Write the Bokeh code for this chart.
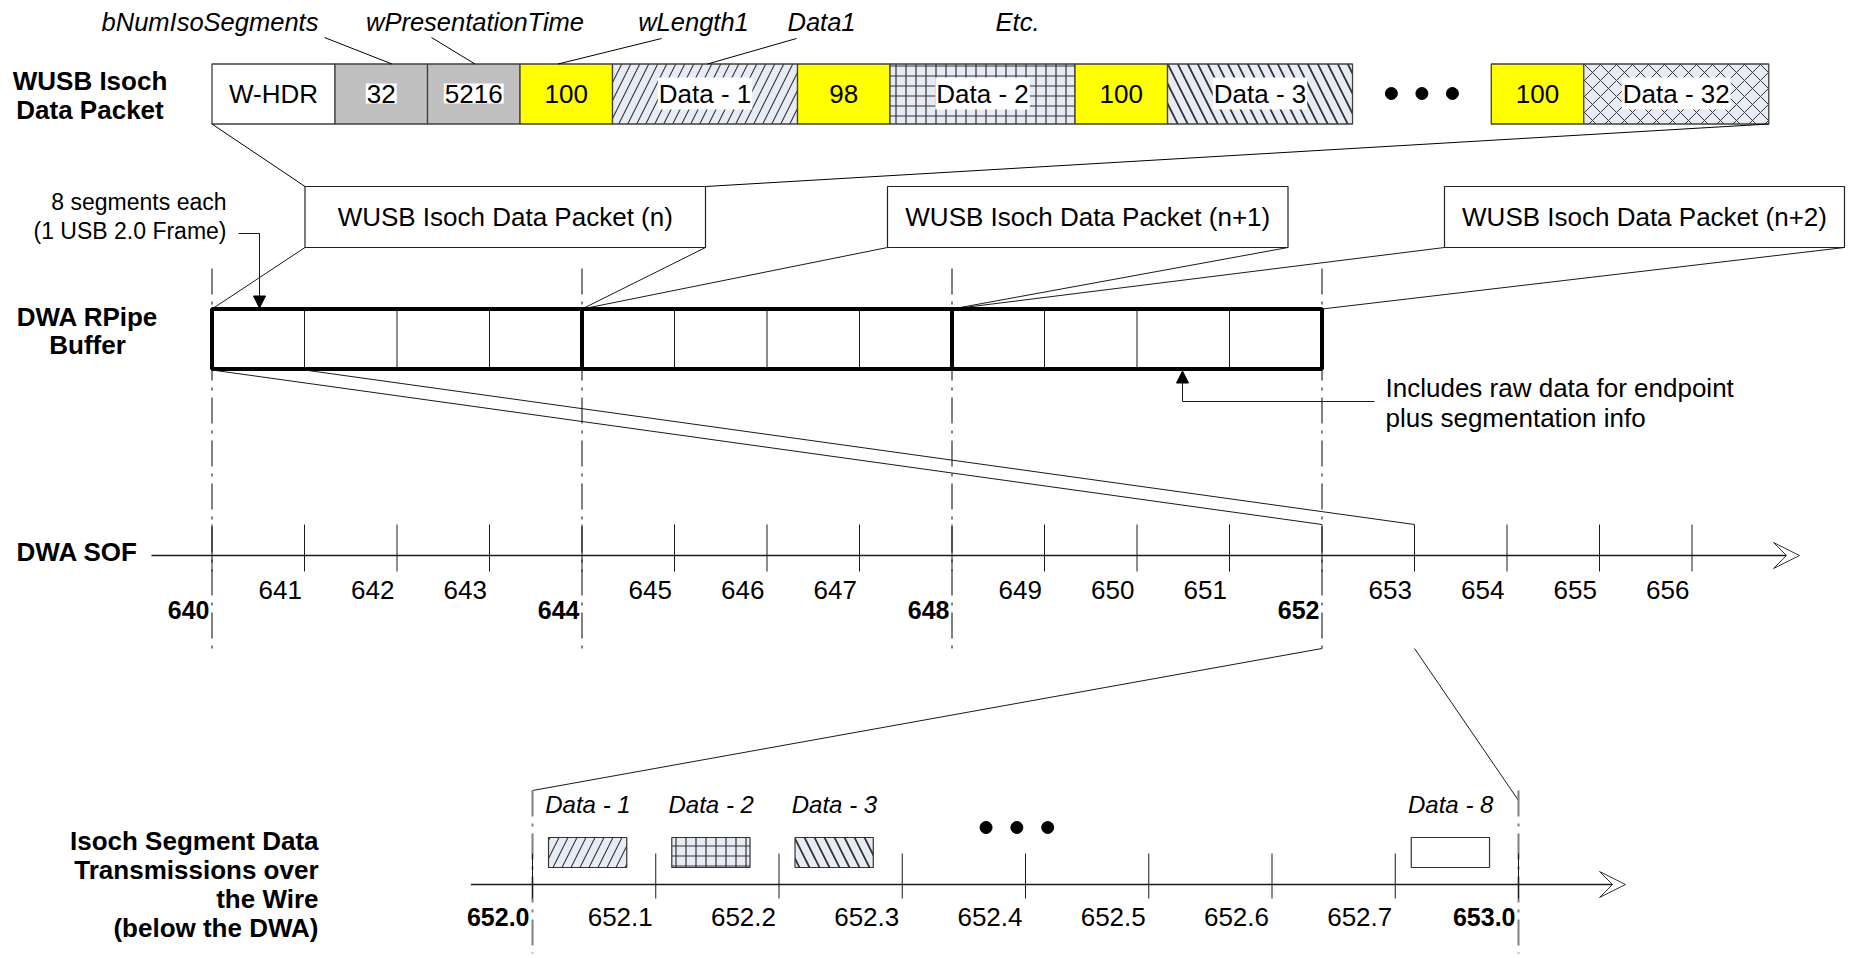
from bokeh.plotting import figure
from bokeh.models import Range1d, Arrow, VeeHead, NormalHead
from bokeh.core.properties import value
from bokeh.embed import file_html
from bokeh.resources import INLINE

# ------------------------------------------------------------------ data
packet_fields = ["W-HDR", "32", "5216", "100", "Data - 1", "98", "Data - 2", "100", "Data - 3", "100", "Data - 32"]
field_kinds = ["hdr", "meta", "meta", "len", "data", "len", "data", "len", "data", "len", "data"]
field_spans = [1.33, 1, 1, 1, 2, 1, 2, 1, 2, 1, 2]          # width in frame units
field_hatch = ["", "", "", "", "/", "", "+", "", "\\", "", "x"]
gap_after = 8                                               # ellipsis gap after this field
gap_span = 1.5
field_notes = ["bNumIsoSegments", "wPresentationTime", "wLength1", "Data1", "Etc."]

sof_frames = list(range(640, 657))
major_frames = [640, 644, 648, 652]
buffer_start, buffer_end = 640, 652
packet_names = ["WUSB Isoch Data Packet (n)", "WUSB Isoch Data Packet (n+1)", "WUSB Isoch Data Packet (n+2)"]

micro_labels = ["652.0", "652.1", "652.2", "652.3", "652.4", "652.5", "652.6", "652.7", "653.0"]
micro_major = ["652.0", "653.0"]
seg_labels = ["Data - 1", "Data - 2", "Data - 3", "Data - 8"]
seg_slots = [0, 1, 2, 7]
seg_hatch = ["/", "+", "\\", ""]

# ------------------------------------------------------------------ layout helpers
W, H = 1853, 958
XU = 92.5                       # px per SOF frame
X0 = 640 - 211.5 / XU           # frame value at the left canvas edge
MU = 123.25                     # px per micro slot
M0 = -532 / MU                  # slot value at the left canvas edge


def fx(px):
    return X0 + px / XU


def m2f(slot):
    return fx((slot - M0) * MU)


FONT = value("Liberation Sans")
INK = "#1a1a1a"

p = figure(width=W, height=H, output_backend="svg", toolbar_location=None,
           x_axis_location=None, y_axis_location=None, min_border=0,
           x_range=Range1d(X0, X0 + W / XU), y_range=Range1d(H, 0))
p.extra_x_ranges = {"micro": Range1d(M0, M0 + W / MU)}
p.grid.visible = False
p.outline_line_color = None
p.background_fill_color = "white"


def txt(xs, ys, texts, size="26px", align="center", style="normal", bg=None, x_range_name="default"):
    kw = {}
    if bg is not None:
        kw = dict(background_fill_color=bg, padding=1)
    p.text(x=xs, y=ys, text=texts, text_font=FONT, text_font_size=size, text_align=align,
           text_baseline="middle", text_font_style=style, text_color="black",
           x_range_name=x_range_name, **kw)


def seg(x0, y0, x1, y1, color="black", width=1.0, dash="solid"):
    p.segment(x0=x0, y0=y0, x1=x1, y1=y1, line_color=color, line_width=width, line_dash=dash)


def hatch_kw(hp):
    if not hp:
        return {}
    scale = {"/": 18, "\\": 20, "+": 10, "x": 16}[hp]
    weight = {"/": 1.1, "\\": 1.8, "+": 1.2, "x": 1.0}[hp]
    return dict(hatch_pattern=hp, hatch_color="#333333", hatch_scale=scale, hatch_weight=weight)


# ------------------------------------------------------------------ top packet row
fill_for = {"hdr": "white", "meta": "#c0c0c0", "len": "#ffff00", "data": "#e6ebf4"}
lefts, rights = [], []
x = float(buffer_start)
for i, span in enumerate(field_spans):
    lefts.append(x)
    rights.append(x + span)
    x += span
    if i == gap_after:
        gap_left = x
        x += gap_span
TOP_Y0, TOP_Y1 = 63.5, 123.5
for i, lab in enumerate(packet_fields):
    p.quad(left=[lefts[i]], right=[rights[i]], top=[TOP_Y0], bottom=[TOP_Y1],
           fill_color=fill_for[field_kinds[i]], line_color="#404040", line_width=1.3,
           **hatch_kw(field_hatch[i]))
cx = [(a + b) / 2 for a, b in zip(lefts, rights)]
plain = [i for i, k in enumerate(field_kinds) if k in ("hdr", "len")]
boxed = [i for i, k in enumerate(field_kinds) if k in ("meta", "data")]
txt([cx[i] for i in plain], [93] * len(plain), [packet_fields[i] for i in plain])
txt([cx[i] for i in boxed], [93] * len(boxed), [packet_fields[i] for i in boxed], bg="white")
p.scatter(x=[gap_left + gap_span * f for f in (0.28, 0.5, 0.72)], y=[93] * 3,
          size=12, marker="circle", color="black")

# field annotations (italic) and leader lines
note_x = [fx(209.5), fx(474.5), fx(693), fx(821), fx(1017)]
txt(note_x, [21] * 5, field_notes, size="25.5px", style="italic")
seg([fx(324), fx(431), fx(661), fx(796)], [37, 37, 38, 38],
    [fx(391.5), fx(474.5), fx(557.5), fx(707)], [TOP_Y0] * 4)

# left row labels
txt([fx(89.5)] * 2, [80, 109], ["WUSB Isoch", "Data Packet"], style="bold")
txt([fx(87)] * 2, [316, 344], ["DWA RPipe", "Buffer"], style="bold")
txt([fx(16)], [551], ["DWA SOF"], style="bold", align="left")
txt([fx(318)] * 4, [840, 869, 898, 927],
    ["Isoch Segment Data", "Transmissions over", "the Wire", "(below the DWA)"],
    style="bold", align="right")

# ------------------------------------------------------------------ packet boxes
pk_left = [fx(304.5), fx(887), fx(1444)]
pk_right = [fx(705), fx(1287.5), fx(1844)]
PK_Y0, PK_Y1 = 186, 247
p.quad(left=pk_left, right=pk_right, top=[PK_Y0] * 3, bottom=[PK_Y1] * 3,
       fill_color="white", line_color="#222222", line_width=1.2)
txt([(a + b) / 2 for a, b in zip(pk_left, pk_right)], [216] * 3, packet_names)

# expansion lines top row -> packet (n)
seg([lefts[0], rights[-1]], [TOP_Y1, TOP_Y1], [pk_left[0], pk_right[0]], [PK_Y0, PK_Y0])

# ------------------------------------------------------------------ dash-dot frame markers
DD = "26 7 3 7"
seg(major_frames, [268] * 4, major_frames, [648] * 4, color="#808080", width=2, dash=DD)

# ------------------------------------------------------------------ RPipe buffer
BUF_Y0, BUF_Y1 = 308.5, 368.5
cells = [f for f in range(buffer_start + 1, buffer_end) if f not in major_frames]
seg(cells, [BUF_Y0] * len(cells), cells, [BUF_Y1] * len(cells), color=INK, width=1)
bounds = major_frames
seg([pk_left[0], pk_right[0], pk_left[1], pk_right[1], pk_left[2], pk_right[2]], [PK_Y1] * 6,
    [bounds[0], bounds[1], bounds[1], bounds[2], bounds[2], bounds[3]], [BUF_Y0] * 6, color=INK)
mids = [f for f in major_frames if buffer_start < f < buffer_end]
seg(mids, [BUF_Y0 - 2] * len(mids), mids, [BUF_Y1 + 2] * len(mids), color="black", width=4)
p.quad(left=[buffer_start], right=[buffer_end], top=[BUF_Y0], bottom=[BUF_Y1],
       fill_color=None, line_color="black", line_width=4)

# 8 segments note
txt([fx(226)] * 2, [201, 230], ["8 segments each", "(1 USB 2.0 Frame)"], size="23px", align="right")
seg([fx(238)], [233], [fx(259)], [233], color=INK)
p.add_layout(Arrow(end=NormalHead(size=12, fill_color="black", line_color="black"),
                   x_start=fx(259), y_start=233, x_end=fx(259), y_end=BUF_Y0 - 1,
                   line_color=INK, line_width=1))

# includes raw data note
txt([fx(1385)] * 2, [387, 417], ["Includes raw data for endpoint", "plus segmentation info"], align="left")
seg([fx(1374)], [401], [fx(1182)], [401], color=INK)
p.add_layout(Arrow(end=NormalHead(size=12, fill_color="black", line_color="black"),
                   x_start=fx(1182), y_start=401, x_end=fx(1182), y_end=BUF_Y1 + 2,
                   line_color=INK, line_width=1))

# ------------------------------------------------------------------ DWA SOF axis
SOF_Y = 555
p.add_layout(Arrow(end=VeeHead(size=26, fill_color="white", line_color="#333333", line_width=1),
                   x_start=fx(151), y_start=SOF_Y, x_end=fx(1799), y_end=SOF_Y,
                   line_color=INK, line_width=1.3))
seg(sof_frames, [524] * len(sof_frames), sof_frames, [571] * len(sof_frames), color=INK, width=1)
minor = [f for f in sof_frames if f not in major_frames]
txt([f - 2.5 / XU for f in minor], [589] * len(minor), [str(f) for f in minor], align="right")
txt([f - 2.5 / XU for f in major_frames], [609] * len(major_frames), [str(f) for f in major_frames],
    size="25px", style="bold", align="right")

# buffer -> SOF delay lines
seg([buffer_start, buffer_start + 1], [BUF_Y1 + 1] * 2, [major_frames[-1], major_frames[-1] + 1], [524] * 2,
    color=INK)

# SOF 652 -> micro frame zoom lines
seg([major_frames[-1], major_frames[-1] + 1], [648, 648], [m2f(0), m2f(8)], [790, 800], color=INK)

# ------------------------------------------------------------------ micro frame axis
slots = list(range(len(micro_labels)))
MY = 884
p.add_layout(Arrow(end=VeeHead(size=26, fill_color="white", line_color="#333333", line_width=1),
                   x_start=m2f(-0.5), y_start=MY, x_end=fx(1625), y_end=MY,
                   line_color=INK, line_width=1.3))
p.segment(x0=[0, 8], y0=[790, 790], x1=[0, 8], y1=[953, 953], line_color="#808080", line_width=2,
          line_dash=DD, x_range_name="micro")
p.segment(x0=slots, y0=[853] * len(slots), x1=slots, y1=[898] * len(slots), line_color=INK,
          line_width=1, x_range_name="micro")
mi = [i for i, l in enumerate(micro_labels) if l not in micro_major]
ma = [i for i, l in enumerate(micro_labels) if l in micro_major]
txt([i - 3 / MU for i in mi], [916] * len(mi), [micro_labels[i] for i in mi], align="right",
    x_range_name="micro")
txt([i - 3 / MU for i in ma], [916] * len(ma), [micro_labels[i] for i in ma], size="25px", style="bold",
    align="right", x_range_name="micro")

# segment transmissions
for lab, s, hp in zip(seg_labels, seg_slots, seg_hatch):
    p.quad(left=[s + 0.13], right=[s + 0.765], top=[837], bottom=[867],
           fill_color="#e6ebf4" if hp else "white", line_color="#333333", line_width=1.2,
           x_range_name="micro", **hatch_kw(hp))
txt([s + 0.45 for s in seg_slots], [804] * len(seg_slots), seg_labels, size="24px", style="italic",
    x_range_name="micro")
p.scatter(x=[3.68, 3.93, 4.18], y=[827] * 3, size=12, marker="circle", color="black",
          x_range_name="micro")

open("out.html", "w").write(file_html(p, INLINE))
